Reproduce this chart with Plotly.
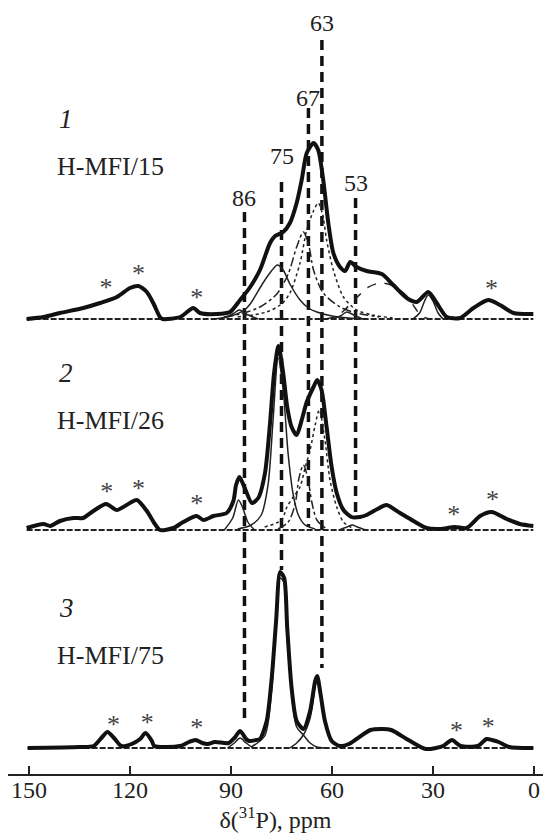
import numpy as np
import plotly.graph_objects as go

# ---------------- data ----------------
X_TICKS = [150, 120, 90, 60, 30, 0]
PEAK_LINES = [86, 75, 67, 63, 53]
SAMPLES = ["H-MFI/15", "H-MFI/26", "H-MFI/75"]
SAMPLE_NUMBERS = ["1", "2", "3"]

# sample 1, H-MFI/15 : experimental spectrum
s1_ppm = [150.7, 145.7, 140.8, 133.9, 128.9, 123.9, 120, 117.5, 115, 113.1, 111.1, 110.3,
          105.1, 101.2, 99.2, 94.2, 90.3, 87.3, 84.3, 81.4, 78.4, 76.9, 74.5, 72.5, 70.5,
          69, 67.5, 65.5, 64.1, 62.6, 61.1, 59.6, 57.6, 56.1, 54.6, 52.7, 49.7, 45.2, 41.8,
          37.8, 34.8, 31.4, 28.9, 25.9, 22, 18, 13.6, 10.1, 6.1, 0.2]
s1_int = [0, 2, 6, 11, 16, 22, 31, 33, 27, 16, 2, 0,
          2, 11, 6, 5, 7, 19, 32, 49, 76, 83, 87, 96, 116,
          139, 166, 176, 169, 139, 96, 66, 52, 48, 57, 52, 48, 45, 34,
          21, 17, 27, 16, 2, 1, 11, 19, 14, 6, 5]
# sample 1 : fitted components
s1_c87_ppm = [93, 89.5, 87.5, 85.5, 82]
s1_c87_int = [0, 5, 9, 5, 0]
s1_c75_ppm = [95, 90, 86, 84.3, 80.5, 78, 76.2, 74.5, 72.5, 69.5, 67, 64.5, 60, 55, 50]
s1_c75_int = [0, 3, 9, 15, 36, 48, 54, 49, 35, 19, 11, 7, 3, 1, 0]
s1_c67_ppm = [92, 87.3, 81.4, 76.4, 73, 70.5, 68.5, 66.8, 65.5, 62.6, 57.6, 52.7, 46]
s1_c67_int = [2, 5, 12, 25, 45, 72, 87, 72, 49, 26, 12, 6, 2]
s1_c63_ppm = [88, 79.4, 75, 72.5, 69.5, 67.5, 65.5, 64.1, 62.8, 61.6, 59.6, 56.6, 52.7, 48, 42]
s1_c63_int = [2, 7, 15, 26, 56, 89, 108, 116, 105, 79, 49, 22, 9, 4, 1]
s1_c53_ppm = [60, 57.5, 55.6, 53.5, 51]
s1_c53_int = [0, 3, 7, 4, 0]
s1_c45_ppm = [62, 58.5, 56.6, 53, 49.7, 45.7, 41.8, 37.8, 35.3, 33.5, 31]
s1_c45_int = [0, 3, 8, 20, 31, 36, 33, 23, 11, 3, 0]
s1_c31_ppm = [36, 34, 32.5, 31.4, 30, 28.5, 27]
s1_c31_int = [0, 6, 18, 24, 18, 6, 0]
s1_star_ppm = [127.1, 117.5, 100.2, 12.6]

# sample 2, H-MFI/26 : experimental spectrum
s2_ppm = [150.7, 145.7, 143.7, 140.8, 136.8, 133.9, 130.9, 127.1, 123.9, 121, 118, 115, 112.6,
          111.1, 107.1, 104.2, 100.2, 98.2, 95.2, 91.3, 89.3, 88.5, 87.5, 85.8, 83.8, 81.9,
          79.9, 78.4, 77.2, 75.9, 74.5, 73.3, 72, 70.5, 69, 67.5, 65.5, 64.4, 63.1, 61.6,
          60.1, 58.6, 56.6, 54.2, 51.7, 49.7, 46.5, 43.8, 39.8, 35.8, 31.9, 27.9, 23.5, 20,
          16, 12.6, 8.1, 4.2, 0.2]
s2_int = [2, 6, 4, 9, 12, 12, 19, 26, 20, 25, 30, 19, 6,
          0, 2, 8, 14, 10, 14, 17, 29, 45, 53, 41, 27, 32,
          57, 107, 157, 184, 157, 123, 103, 95, 110, 128, 143, 150, 140, 103,
          63, 37, 20, 13, 13, 15, 21, 25, 17, 9, 2, 1, 3, 2,
          14, 18, 11, 6, 4]
# sample 2 : fitted components
s2_c87_ppm = [92, 89.5, 87.8, 86.5, 85, 83]
s2_c87_int = [0, 12, 30, 22, 8, 0]
s2_c75_ppm = [88, 84, 81, 79, 77.5, 76, 74.5, 73, 71.5, 70, 68, 65]
s2_c75_int = [1, 5, 15, 45, 110, 172, 140, 75, 35, 15, 5, 1]
s2_c67_ppm = [76, 73, 71, 69.8, 68.5, 67.2, 66, 64.5, 62]
s2_c67_int = [1, 8, 25, 52, 65, 52, 28, 10, 2]
s2_c63_ppm = [80, 75, 73.4, 71.5, 69.5, 68, 66.5, 65, 63.8, 62.1, 60.6, 58.6, 56.6, 54]
s2_c63_int = [3, 10, 23, 33, 43, 62, 80, 105, 120, 90, 50, 23, 8, 2]
s2_c53_ppm = [58, 55.5, 54, 52.5, 50]
s2_c53_int = [0, 3, 5, 3, 0]
s2_star_ppm = [126.9, 117.5, 100.2, 23.8, 12.3]

# sample 3, H-MFI/75 : experimental spectrum
s3_ppm = [150.4, 135, 130.8, 128.5, 126.7, 124.5, 122.6, 119.5, 117, 115.4, 113.5, 112.8,
          105.1, 102.5, 100.5, 98.5, 96.9, 94.8, 90.7, 89, 87.3, 85.5, 84.6, 82.5, 81.4,
          79.4, 77.9, 76.6, 75.4, 74.2, 73.3, 72, 70.5, 68.5, 66.5, 65, 64.4, 63.4, 62.1,
          60.1, 57.6, 55, 52.7, 48.6, 45, 42.4, 37.3, 32.1, 27, 24.4, 21.8, 16.7, 14.1,
          12.5, 10.5, 7.4, 0.2]
s3_int = [0, 1, 2, 10, 16, 9, 2, 4, 9, 15, 7, 2,
          2, 6, 8, 5, 4, 6, 5, 10, 17, 9, 7, 8, 9,
          27, 70, 127, 176, 170, 120, 60, 27, 19, 37, 67, 72, 54, 27,
          7, 2, 4, 9, 18, 19, 18, 8, -1, 2, 8, 2, 2, 9,
          8, 6, 1, 0]
# sample 3 : fitted components
s3_c87_ppm = [91, 89, 87.3, 85.5, 83.5]
s3_c87_int = [0, 5, 10, 5, 0]
s3_c75_ppm = [84, 80, 78, 76.6, 75.4, 74.2, 73.3, 72, 70.5, 68.5, 66.5, 64.5, 62]
s3_c75_int = [1, 12, 55, 125, 170, 165, 115, 55, 21, 13, 5, 1, 0]
s3_c64_ppm = [72.5, 70.5, 68.5, 66.5, 65, 64.4, 63.4, 62.1, 60.1, 58]
s3_c64_int = [0, 5, 13, 30, 62, 70, 54, 27, 7, 1]
s3_star_ppm = [124.9, 114.9, 100.2, 23.0, 13.6]

# ---------------- layout constants ----------------
W, H = 543, 835
AXIS_PX = 774                 # pixel row of the x axis line
OFFSETS = [455, 244, 26]      # baseline of each stacked spectrum, px above the axis
FONT = '"Liberation Serif", "Times New Roman", Times, serif'
STAR_GAP = 11


def y_of(px):
    """Vertical data coordinate for a pixel row."""
    return AXIS_PX - px


fig = go.Figure()

# vertical dashed guides: (ppm, top px, bottom px, label px)
guide_geom = {86: (212, 720, 198), 75: (182, 570, 156), 67: (108, 527, 98),
              63: (40, 668, 23), 53: (198, 518, 183)}
for v in PEAK_LINES:
    top, bot, lab = guide_geom[v]
    fig.add_trace(go.Scatter(x=[v, v], y=[y_of(top), y_of(bot)], mode="lines",
                             line=dict(color="#111", width=3.5, dash="10px,6px"),
                             hoverinfo="skip", showlegend=False))
    fig.add_annotation(x=v, y=y_of(lab), text=str(v), showarrow=False,
                       font=dict(family=FONT, size=24, color="#222"),
                       xanchor="center", yanchor="middle")

spectra = [
    (s1_ppm, s1_int, [(s1_c87_ppm, s1_c87_int, "solid"), (s1_c75_ppm, s1_c75_int, "solid"),
                      (s1_c67_ppm, s1_c67_int, "dashdot"), (s1_c63_ppm, s1_c63_int, "dot"),
                      (s1_c53_ppm, s1_c53_int, "solid"), (s1_c45_ppm, s1_c45_int, "dash"),
                      (s1_c31_ppm, s1_c31_int, "solid")], s1_star_ppm),
    (s2_ppm, s2_int, [(s2_c87_ppm, s2_c87_int, "solid"), (s2_c75_ppm, s2_c75_int, "solid"),
                      (s2_c67_ppm, s2_c67_int, "dashdot"), (s2_c63_ppm, s2_c63_int, "dot"),
                      (s2_c53_ppm, s2_c53_int, "solid")], s2_star_ppm),
    (s3_ppm, s3_int, [(s3_c87_ppm, s3_c87_int, "solid"), (s3_c75_ppm, s3_c75_int, "solid"),
                      (s3_c64_ppm, s3_c64_int, "solid")], s3_star_ppm),
]

for (ppm, inten, comps, stars), off in zip(spectra, OFFSETS):
    # zero line of the fit
    fig.add_trace(go.Scatter(x=[ppm[0], ppm[-1]], y=[off, off], mode="lines",
                             line=dict(color="#222", width=2, dash="6px,2px"),
                             hoverinfo="skip", showlegend=False))
    for cx, cy, dash in comps:
        fig.add_trace(go.Scatter(x=cx, y=[off + v for v in cy], mode="lines",
                                 line=dict(color="#222", width=1.5, dash=dash,
                                           shape="spline", smoothing=0.8),
                                 hoverinfo="skip", showlegend=False))
    fig.add_trace(go.Scatter(x=ppm, y=[off + v for v in inten], mode="lines",
                             line=dict(color="#111", width=4, shape="spline", smoothing=0.7),
                             hoverinfo="skip", showlegend=False))
    # spinning sidebands
    xp = np.array(ppm[::-1], dtype=float)
    yp = np.array(inten[::-1], dtype=float)
    sy = np.interp(stars, xp, yp) + off + STAR_GAP
    fig.add_trace(go.Scatter(x=stars, y=sy, mode="text", text=["*"] * len(stars),
                             textfont=dict(family=FONT, size=26, color="#444"),
                             textposition="middle center",
                             hoverinfo="skip", showlegend=False))

# sample numbers and names
label_rows = [(119, 166), (373, 420), (608, 655)]
for num, name, (pn, pname) in zip(SAMPLE_NUMBERS, SAMPLES, label_rows):
    fig.add_annotation(x=(57 - 8) / (W - 8), xref="paper", y=y_of(pn), text=f"<i>{num}</i>",
                       showarrow=False, xanchor="left", yanchor="middle",
                       font=dict(family=FONT, size=27, color="#222"))
    fig.add_annotation(x=(55 - 8) / (W - 8), xref="paper", y=y_of(pname), text=name,
                       showarrow=False, xanchor="left", yanchor="middle",
                       font=dict(family=FONT, size=26, color="#222"))

# ppm 150 at x=29 px, ppm 0 at x=534 px
ppm_per_px = 150 / (534 - 29)
x_left = 150 + (29 - 8) * ppm_per_px
x_right = 0 - (W - 534) * ppm_per_px

fig.update_layout(
    width=W, height=H,
    margin=dict(l=8, r=0, t=0, b=H - AXIS_PX),
    paper_bgcolor="white", plot_bgcolor="white",
    showlegend=False,
    xaxis=dict(range=[x_left, x_right], tickvals=X_TICKS, ticktext=[str(t) for t in X_TICKS],
               ticks="inside", ticklen=8, tickwidth=2, tickcolor="#222",
               ticklabelstandoff=-7,
               showline=True, linewidth=2, linecolor="#222", showgrid=False, zeroline=False,
               tickfont=dict(family=FONT, size=24, color="#222"),
               title=dict(text="δ(<sup>31</sup>P), ppm", standoff=4,
                          font=dict(family=FONT, size=24, color="#222"))),
    yaxis=dict(range=[0, AXIS_PX], visible=False, showgrid=False, zeroline=False),
)

fig.write_html("out.html")
